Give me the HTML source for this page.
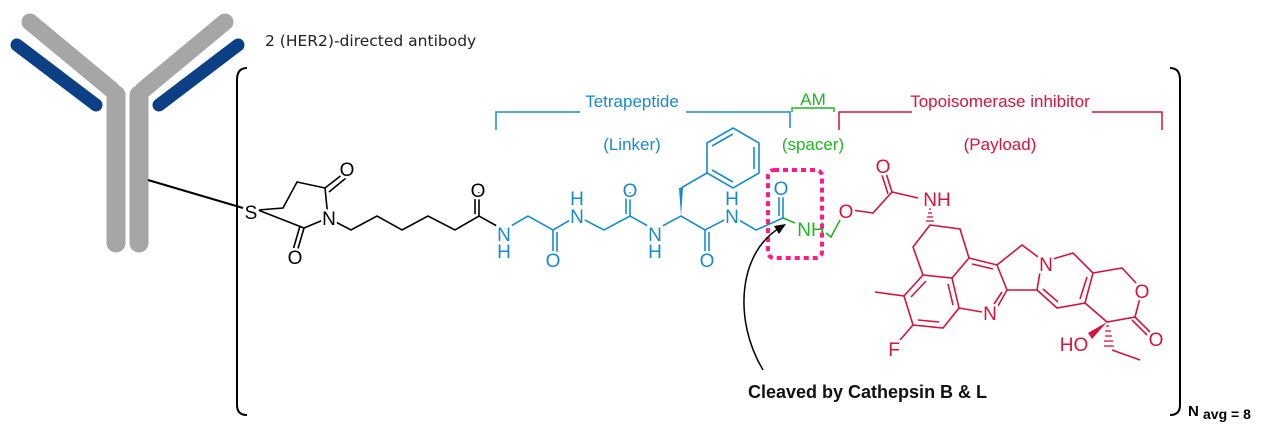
<!DOCTYPE html>
<html><head><meta charset="utf-8"><style>
html,body{margin:0;padding:0;background:#fff;}
svg{display:block;font-family:"Liberation Sans",Arial,sans-serif;}
text{font-family:"Liberation Sans",Arial,sans-serif;}
.at{font-size:19px;text-anchor:middle;paint-order:stroke;stroke:#fff;stroke-width:5px;}
</style></head><body>
<svg width="1267" height="434" viewBox="0 0 1267 434" xmlns="http://www.w3.org/2000/svg" font-family="Liberation Sans, Arial, sans-serif">
<g stroke-linecap="round" fill="none">
<line x1="30" y1="22" x2="112" y2="90" stroke="#a6a6a6" stroke-width="17"/>
<line x1="225" y1="22" x2="143" y2="90" stroke="#a6a6a6" stroke-width="17"/>
<line x1="116" y1="95" x2="116" y2="243" stroke="#a6a6a6" stroke-width="19"/>
<line x1="139" y1="95" x2="139" y2="243" stroke="#a6a6a6" stroke-width="19"/>
<line x1="17" y1="45" x2="96" y2="105" stroke="#0b3f86" stroke-width="13"/>
<line x1="238" y1="45" x2="159" y2="105" stroke="#0b3f86" stroke-width="13"/>
</g>
<line x1="148" y1="180" x2="243" y2="208" stroke="#000" stroke-width="2"/>
<text x="265" y="46" font-size="15.5" fill="#222" font-family="DejaVu Sans, sans-serif" style="font-family:'DejaVu Sans',sans-serif">2 (HER2)-directed antibody</text>
<path d="M247,68 Q237,68 237,80 L237,405 Q237,415 247,415" stroke="#000" stroke-width="2" fill="none"/>
<path d="M1170,68 Q1180,68 1180,80 L1180,405 Q1180,415 1170,415" stroke="#000" stroke-width="2" fill="none"/>
<text x="1188" y="416" font-size="15" font-weight="bold" fill="#000">N <tspan font-size="14" dy="3">avg = 8</tspan></text>
<g fill="none" stroke-width="1.5">
<path d="M496,130 V112 H790 V128" stroke="#1a8ad0"/>
<path d="M792,112 V108 H834 V112" stroke="#22b422"/>
<path d="M839,130 V112 H1162 V130" stroke="#d4143c"/>
</g>
<rect x="580" y="96" width="106" height="18" fill="#fff"/>
<rect x="912" y="96" width="180" height="18" fill="#fff"/>
<text x="632" y="107" font-size="17" fill="#1a8ad0" text-anchor="middle">Tetrapeptide</text>
<text x="632" y="150" font-size="17" fill="#1a8ad0" text-anchor="middle">(Linker)</text>
<text x="813" y="105" font-size="17" fill="#22b422" text-anchor="middle">AM</text>
<text x="813" y="150" font-size="17" fill="#22b422" text-anchor="middle">(spacer)</text>
<text x="1000" y="107" font-size="17" fill="#d4143c" text-anchor="middle">Topoisomerase inhibitor</text>
<text x="1000" y="150" font-size="17" fill="#d4143c" text-anchor="middle">(Payload)</text>
<g stroke="#000" stroke-width="1.6" fill="none">
<path d="M258,210 L283,208 L297,182 L325,188 L328,218 L304,228 Z"/>
<line x1="325" y1="188" x2="343" y2="174"/><line x1="329" y1="192" x2="346" y2="178"/>
<line x1="304" y1="228" x2="297" y2="252"/><line x1="300" y1="226" x2="293" y2="250"/>
<path d="M328,218 L351,230 L377,216 L402,230 L428,216 L455,230 L479,216 L504,230"/>
<line x1="479" y1="216" x2="479" y2="192"/><line x1="475" y1="214" x2="475" y2="192"/>
</g>
<text class="at" x="251" y="219" fill="#000">S</text>
<text class="at" x="347" y="176" fill="#000">O</text>
<text class="at" x="295" y="264" fill="#000">O</text>
<text class="at" x="329" y="225" fill="#000">N</text>
<text class="at" x="478" y="197" fill="#000">O</text>
<g stroke="#1a8ad0" stroke-width="1.6" fill="none">
<path d="M504,230 L528,216 L553,230 L577,216 L604,230 L630,216 L655,230 L681,216 L705,230 L732,216 L756,230 L783,218"/>
<line x1="553" y1="230" x2="553" y2="256"/><line x1="557" y1="232" x2="557" y2="256"/>
<line x1="630" y1="216" x2="630" y2="192"/><line x1="626" y1="214" x2="626" y2="192"/>
<line x1="705" y1="230" x2="705" y2="256"/><line x1="709" y1="232" x2="709" y2="256"/>
<line x1="783" y1="218" x2="783" y2="192"/><line x1="779" y1="216" x2="779" y2="192"/>
<line x1="681" y1="188" x2="707" y2="173"/>
<path d="M733,128 L759,143 L759,173 L733,188 L707,173 L707,143 Z"/>
<line x1="712" y1="146" x2="733" y2="134"/><line x1="754" y1="147" x2="754" y2="169"/><line x1="712" y1="170" x2="733" y2="182"/>
</g>
<polygon points="681,216 679,188 683,188" fill="#1a8ad0"/>
<g fill="#1a8ad0">
<text class="at" x="504" y="241">N</text><text class="at" x="504" y="258">H</text>
<text class="at" x="553" y="267">O</text>
<text class="at" x="577" y="223">N</text><text class="at" x="577" y="205">H</text>
<text class="at" x="630" y="197">O</text>
<text class="at" x="655" y="241">N</text><text class="at" x="655" y="258">H</text>
<text class="at" x="707" y="267">O</text>
<text class="at" x="732" y="223">N</text><text class="at" x="732" y="205">H</text>
<text class="at" x="781" y="195">O</text>
</g>
<g stroke="#22b422" stroke-width="1.6" fill="none">
<line x1="783" y1="218" x2="795" y2="223"/>
<path d="M826,233 L831,237 L840,220"/>
</g>
<text x="811" y="236" font-size="19" text-anchor="middle" fill="#22b422">NH</text>
<rect x="768" y="170" width="54" height="88" rx="6" fill="none" stroke="#ff1a8c" stroke-width="4" stroke-dasharray="5 4"/>
<path d="M763,370 C733,320 738,252 781,227" stroke="#000" stroke-width="1.5" fill="none"/>
<polygon points="786,224 774,226 779,234" fill="#000"/>
<text x="748" y="398" font-size="18" font-weight="bold" fill="#111">Cleaved by Cathepsin B &amp; L</text>
<g stroke="#d4143c" stroke-width="1.6" fill="none">
<path d="M852,210 L873,213 L892,192 L918,198"/>
<line x1="892" y1="192" x2="885" y2="170"/><line x1="888" y1="194" x2="881" y2="172"/>
<path d="M930,225 L960,229 L969,258 L952,278 L923,275 L913,247 Z"/>
<path d="M923,275 L904,296 L913,325 L943,328 L959,308 L952,278"/>
<line x1="926" y1="281" x2="911" y2="297"/><line x1="918" y1="320" x2="939" y2="322"/><line x1="948" y1="284" x2="953" y2="305"/>
<line x1="904" y1="296" x2="875" y2="292"/>
<line x1="913" y1="325" x2="900" y2="340"/>
<path d="M959,308 L982,312"/><path d="M998,306 L1007,290 L997,265 L969,258"/>
<line x1="972" y1="264" x2="993" y2="269"/><line x1="994" y1="304" x2="1002" y2="292"/>
<path d="M997,265 L1022,245 L1038,257"/><path d="M1040,272 L1037,290 L1007,290"/>
<path d="M1053,259 L1073,253 L1093,273 L1085,303 L1057,308 L1037,290"/>
<line x1="1043" y1="289" x2="1058" y2="302"/><line x1="1087" y1="277" x2="1080" y2="299"/>
<path d="M1093,273 L1122,268 L1136,283"/><path d="M1140,298 L1135,317 L1107,322 L1085,303"/>
<line x1="1135" y1="317" x2="1150" y2="332"/><line x1="1132" y1="320" x2="1147" y2="335"/>
<line x1="1112" y1="350" x2="1140" y2="360"/>
</g>
<g stroke="#d4143c" stroke-width="1.3">
<line x1="929" y1="209" x2="931" y2="209"/><line x1="928" y1="213" x2="932" y2="213"/><line x1="927" y1="217" x2="933" y2="217"/><line x1="926" y1="221" x2="934" y2="221"/>
<line x1="1106" y1="326" x2="1109" y2="326"/><line x1="1105" y1="331" x2="1111" y2="331"/><line x1="1105" y1="336" x2="1112" y2="336"/><line x1="1104" y1="341" x2="1113" y2="341"/><line x1="1104" y1="346" x2="1114" y2="346"/>
</g>
<polygon points="1107,322 1088,333 1092,339" fill="#d4143c"/>
<g fill="#d4143c">
<text class="at" x="846" y="218">O</text>
<text class="at" x="883" y="173">O</text>
<text class="at" x="937" y="206">NH</text>
<text class="at" x="894" y="356">F</text>
<text class="at" x="990" y="320">N</text>
<text class="at" x="1046" y="271">N</text>
<text class="at" x="1142" y="298">O</text>
<text class="at" x="1156" y="346">O</text>
<text class="at" x="1074" y="351">HO</text>
</g>
</svg>
</body></html>
